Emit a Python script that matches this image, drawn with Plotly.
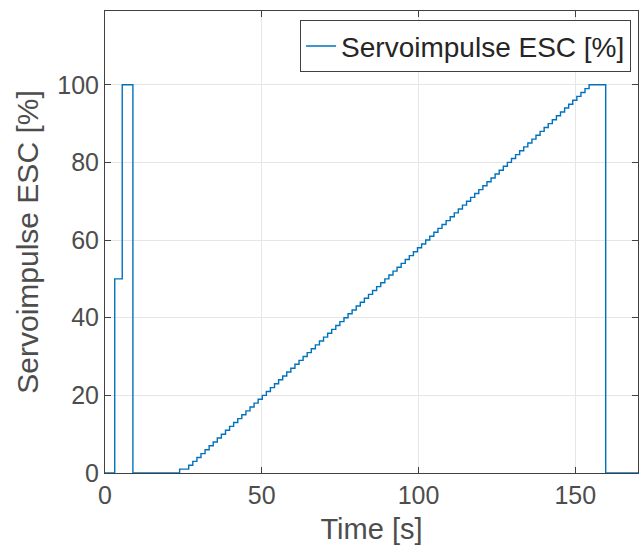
import plotly.graph_objects as go

# Change points of the stepped signal (time in s, value in %)
pulse_times = [0.0, 3.1, 5.5, 8.9]
pulse_values = [0, 50, 100, 0]

ramp_times = [23.8, 26.70, 28.00, 29.31, 30.61, 31.91, 33.22, 34.52, 35.82, 37.12,
              38.43, 39.73, 41.03, 42.34, 43.64, 44.94, 46.25, 47.55, 48.85, 50.16,
              51.46, 52.76, 54.07, 55.37, 56.67, 57.97, 59.28, 60.58, 61.88, 63.19,
              64.49, 65.79, 67.10, 68.40, 69.70, 71.01, 72.31, 73.61, 74.91, 76.22,
              77.52, 78.82, 80.13, 81.43, 82.73, 84.04, 85.34, 86.64, 87.95, 89.25,
              90.55, 91.86, 93.16, 94.46, 95.76, 97.07, 98.37, 99.67, 100.98, 102.28,
              103.58, 104.89, 106.19, 107.49, 108.80, 110.10, 111.40, 112.70, 114.01, 115.31,
              116.61, 117.92, 119.22, 120.52, 121.83, 123.13, 124.43, 125.74, 127.04, 128.34,
              129.64, 130.95, 132.25, 133.55, 134.86, 136.16, 137.46, 138.77, 140.07, 141.37,
              142.68, 143.98, 145.28, 146.59, 147.89, 149.19, 150.49, 151.80, 153.10, 154.40]
ramp_values = [1, 2, 3, 4, 5, 6, 7, 8, 9, 10,
               11, 12, 13, 14, 15, 16, 17, 18, 19, 20,
               21, 22, 23, 24, 25, 26, 27, 28, 29, 30,
               31, 32, 33, 34, 35, 36, 37, 38, 39, 40,
               41, 42, 43, 44, 45, 46, 47, 48, 49, 50,
               51, 52, 53, 54, 55, 56, 57, 58, 59, 60,
               61, 62, 63, 64, 65, 66, 67, 68, 69, 70,
               71, 72, 73, 74, 75, 76, 77, 78, 79, 80,
               81, 82, 83, 84, 85, 86, 87, 88, 89, 90,
               91, 92, 93, 94, 95, 96, 97, 98, 99, 100]

end_times = [159.7, 170.0]
end_values = [0, 0]

x_ticks = [0, 50, 100, 150]
y_ticks = [0, 20, 40, 60, 80, 100]

t = pulse_times + ramp_times + end_times
v = pulse_values + ramp_values + end_values

FONT = "Liberation Sans, Arial, sans-serif"
AX = "#404040"

fig = go.Figure()
fig.add_trace(go.Scatter(
    x=t, y=v, mode="lines", line=dict(color="#0072BD", width=1.4, shape="hv"),
    name="Servoimpulse ESC [%]", showlegend=True))

axis_common = dict(
    showline=True, linecolor=AX, linewidth=1, mirror="allticks",
    ticks="inside", ticklen=6, tickcolor=AX, tickwidth=1,
    showgrid=True, gridcolor="#e6e6e6", gridwidth=1, zeroline=False,
    tickfont=dict(family=FONT, size=25, color="#4d4d4d"),
)

fig.update_xaxes(range=[0, 170], tickvals=x_ticks,
                 title=dict(text="Time [s]", font=dict(family=FONT, size=29, color="#4d4d4d"), standoff=10),
                 **axis_common)
fig.update_yaxes(range=[0, 119], tickvals=y_ticks,
                 title=dict(text="Servoimpulse ESC [%]", font=dict(family=FONT, size=30, color="#4d4d4d"), standoff=9),
                 **axis_common)

fig.update_layout(
    width=641, height=555,
    margin=dict(l=105, r=3, t=11, b=82),
    plot_bgcolor="white", paper_bgcolor="white",
    font=dict(family=FONT),
    legend=dict(x=0.987, y=0.98, xanchor="right", yanchor="top",
                bgcolor="white", bordercolor=AX, borderwidth=1,
                font=dict(family=FONT, size=28, color="#262626"),
                itemwidth=30, tracegroupgap=0),
    showlegend=True,
)

fig.write_html("out.html")
